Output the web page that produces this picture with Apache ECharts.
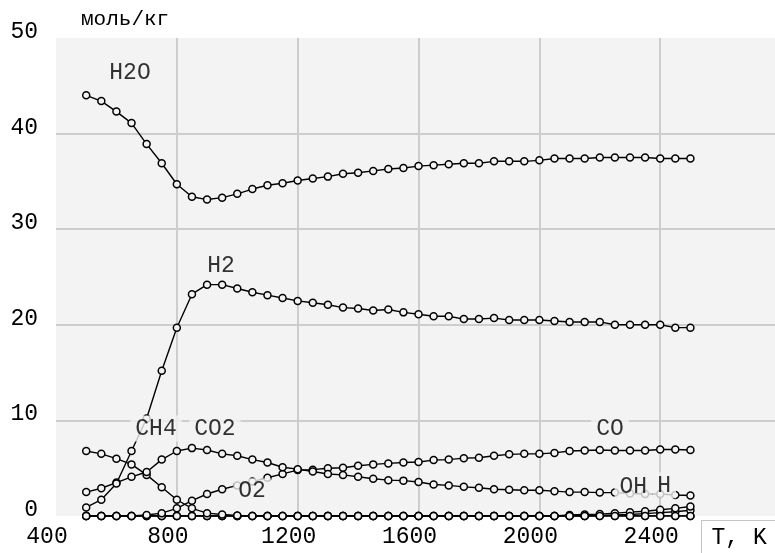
<!DOCTYPE html>
<html>
<head>
<meta charset="utf-8">
<script src="https://cdn.jsdelivr.net/npm/echarts@6/dist/echarts.min.js"></script>
<style>
html,body{margin:0;padding:0;background:#fff;}
#c{width:775px;height:553px;}
</style>
</head>
<body>
<div id="c"></div>
<script>
// Temperature, K
var temps = [500,550,600,650,700,750,800,850,900,950,
             1000,1050,1100,1150,1200,1250,1300,1350,1400,1450,
             1500,1550,1600,1650,1700,1750,1800,1850,1900,1950,
             2000,2050,2100,2150,2200,2250,2300,2350,2400,2450,2500];
// mol/kg
var h2o = [44.0,43.4,42.3,41.1,38.9,36.9,34.7,33.4,33.1,33.3,
           33.7,34.2,34.6,34.8,35.1,35.3,35.5,35.8,35.9,36.1,
           36.3,36.4,36.6,36.7,36.8,36.9,36.9,37.1,37.1,37.1,
           37.2,37.4,37.4,37.4,37.5,37.5,37.5,37.5,37.4,37.4,37.4];
var h2 = [0.9,1.7,3.4,6.8,10.2,15.2,19.7,23.2,24.2,24.2,
          23.8,23.4,23.1,22.8,22.5,22.3,22.1,21.8,21.7,21.5,
          21.6,21.3,21.1,20.9,20.9,20.6,20.6,20.7,20.5,20.5,
          20.5,20.4,20.3,20.3,20.3,20.0,20.0,20.0,20.0,19.7,19.7];
var co2 = [2.5,2.9,3.5,4.1,4.6,5.9,6.8,7.1,6.9,6.5,
           6.3,5.9,5.6,5.1,4.9,4.65,4.4,4.3,4.1,3.9,
           3.75,3.7,3.55,3.3,3.2,3.05,2.95,2.8,2.75,2.7,
           2.7,2.6,2.5,2.5,2.45,2.45,2.35,2.3,2.3,2.2,2.15];
var co = [0,0,0,0,0.1,0.3,0.8,1.6,2.3,2.8,
          3.2,3.6,4.0,4.4,4.8,4.85,5.0,5.05,5.25,5.4,
          5.5,5.6,5.65,5.85,5.9,6.05,6.1,6.3,6.45,6.5,
          6.5,6.6,6.8,6.85,6.9,6.85,6.85,6.85,6.95,6.95,6.9];
var ch4 = [6.8,6.5,6.0,5.4,4.3,3.0,1.7,0.8,0.3,0.15,
           0.05,0,0,0,0,0,0,0,0,0,
           0,0,0,0,0,0,0,0,0,0,
           0,0,0,0,0,0,0,0,0,0,0];
var o2 = [0,0,0,0,0,0,0,0,0,0,
          0,0,0,0,0,0,0,0,0,0,
          0,0,0,0,0,0,0,0,0,0,
          0,0,0,0,0,0,0,0,0,0,0];
var oh = [0,0,0,0,0,0,0,0,0,0,
          0,0,0,0,0,0,0,0,0,0,
          0,0,0,0,0,0,0,0,0,0,
          0,0,0.1,0.15,0.2,0.3,0.4,0.5,0.65,0.8,1.0];
var hAtom = [0,0,0,0,0,0,0,0,0,0,
             0,0,0,0,0,0,0,0,0,0,
             0,0,0,0,0,0,0,0,0,0,
             0,0,0,0,0.05,0.1,0.15,0.25,0.35,0.45,0.6];
var xTicks = [400,800,1200,1600,2000,2400];
var yTicks = [0,10,20,30,40,50];

var FONT = "'Liberation Mono','DejaVu Sans Mono',monospace";

function pairs(vals){ return temps.map(function(t,i){ return [t, vals[i]]; }); }

function lineSeries(name, vals){
  return {
    name: name, type: 'line', data: pairs(vals),
    symbol: 'circle', symbolSize: 7, showAllSymbol: true,
    lineStyle: {color: '#000', width: 1.4},
    itemStyle: {color: '#f3f3f3', borderColor: '#000', borderWidth: 1.5},
    emphasis: {disabled: true}, animation: false, z: 3
  };
}

// label anchors (layout only)
var labelSpots = [
  {name:'H2O', value:[645, 46.4]},
  {name:'H2',  value:[946, 26.2]},
  {name:'CH4', value:[731, 9.15]},
  {name:'CO2', value:[926, 9.15]},
  {name:'O2',  value:[1049, 2.6]},
  {name:'CO',  value:[2234, 9.15]},
  {name:'OH',  value:[2311, 3.0]},
  {name:'H',   value:[2413, 3.2]}
];

var chart = echarts.init(document.getElementById('c'), null, {renderer:'canvas'});
chart.setOption({
  animation: false,
  backgroundColor: '#fff',
  title: {
    text: 'моль/кг', left: 76, top: 4,
    textStyle: {fontFamily: FONT, fontSize: 21, fontWeight: 'normal', color: '#000'}
  },
  grid: {left: 56, right: 0, top: 38, bottom: 37, show: true,
         containLabel: false, outerBoundsMode: 'none',
         backgroundColor: '#f3f3f3', borderWidth: 0},
  xAxis: {
    type: 'value', min: 400, max: 2780, interval: 400,
    axisLine: {show: false}, axisTick: {show: false},
    splitLine: {show: true, showMinLine: false, showMaxLine: false,
                lineStyle: {color: '#cdcdcd', width: 2}},
    axisLabel: {
      fontFamily: FONT, fontSize: 23, color: '#000', margin: 10,
      lineHeight: 22, padding: [0, 18, 0, 0],
      formatter: function(v){ return xTicks.indexOf(v) >= 0 ? String(v) : ''; }
    }
  },
  yAxis: {
    type: 'value', min: 0, max: 50, interval: 10,
    axisLine: {show: false}, axisTick: {show: false},
    splitLine: {show: true, showMinLine: false, showMaxLine: false,
                lineStyle: {color: '#cdcdcd', width: 2}},
    axisLabel: {
      color: '#000', margin: 18,
      formatter: function(v){ return yTicks.indexOf(v) >= 0 ? '{t|' + v + '}' : ''; },
      rich: {t: {fontFamily: FONT, fontSize: 23, color: '#000', padding: [0, 0, 12, 0]}}
    }
  },
  series: [
    lineSeries('O2', o2),
    lineSeries('H', hAtom),
    lineSeries('OH', oh),
    lineSeries('CH4', ch4),
    lineSeries('CO', co),
    lineSeries('CO2', co2),
    lineSeries('H2', h2),
    lineSeries('H2O', h2o),
    {
      type: 'scatter', name: 'labels', data: labelSpots,
      symbolSize: 0, z: 20, silent: true, animation: false,
      label: {
        show: true, position: 'inside',
        formatter: function(p){ return p.name; },
        fontFamily: FONT, fontSize: 23, color: '#000',
        backgroundColor: '#f3f3f3', padding: [2, 5, 1, 5]
      }
    }
  ],
  graphic: [
    {
      type: 'group', left: 701, top: 520, z: 50,
      children: [
        {type: 'rect', shape: {x: 0, y: 0, width: 74, height: 33},
         style: {fill: '#fff', stroke: '#c4c4c4', lineWidth: 1}},
        {type: 'text', x: 10, y: 17,
         style: {text: 'T, K', font: "23px 'Liberation Mono','DejaVu Sans Mono',monospace",
                 fill: '#000', verticalAlign: 'middle'}}
      ]
    }
  ]
});
</script>
</body>
</html>
